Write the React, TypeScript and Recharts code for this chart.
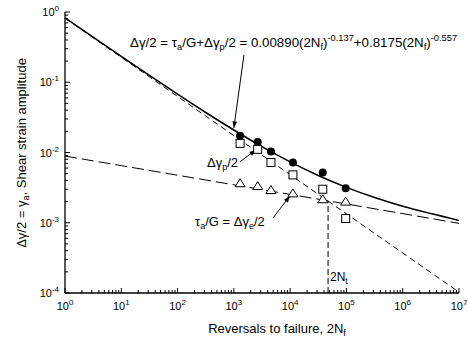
import { ComposedChart, Line, Scatter, XAxis, YAxis, ReferenceLine } from "recharts";

// Shear strain-life curve (log-log), fitted Coffin-Manson-type lines + test points.

const FONT = '"Liberation Sans", Arial, Helvetica, sans-serif';

const X_DECADES = [1, 10, 100, 1e3, 1e4, 1e5, 1e6, 1e7];
const Y_DECADES = [1e-4, 1e-3, 1e-2, 1e-1, 1];

// test results, 2Nf vs amplitude
const testReversals = [1290, 2650, 4560, 11200, 38000, 97000];
const totalAmp = [0.0173, 0.0141, 0.0103, 0.0072, 0.0052, 0.0031];
const plasticAmp = [0.0135, 0.0111, 0.0072, 0.0048, 0.003, 0.00115];
const elasticAmp = [0.00365, 0.00333, 0.00292, 0.00262, 0.00216, 0.002];

// fitted curves
const totalFitX = [1, 3.16, 10, 31.6, 100, 316, 1e3, 3160, 1e4, 31600, 1e5, 316000, 1e6, 3.16e6, 1e7];
const totalFitY = [0.826, 0.438, 0.233, 0.125, 0.0676, 0.0371, 0.0209, 0.0121, 0.00736, 0.00471, 0.00319, 0.00229, 0.00172, 0.00135, 0.00108];
const lineFitX = [1, 10, 100, 1e3, 1e4, 1e5, 1e6, 1e7];
const plasticFitY = [0.8175, 0.2266, 0.0628, 0.0174, 0.00483, 0.00134, 0.000371, 0.000103];
const elasticFitY = [0.0089, 0.0065, 0.00475, 0.00347, 0.00253, 0.00185, 0.00135, 0.00098];

// transition life 2Nt
const transitionX = 47200;
const transitionY = 0.00204;

const zip = (xs: number[], ys: number[]) => xs.map((x, i) => ({ x, y: ys[i] }));

const totalPts = zip(testReversals, totalAmp);
const plasticPts = zip(testReversals, plasticAmp);
const elasticPts = zip(testReversals, elasticAmp);
const totalFit = zip(totalFitX, totalFitY);
const plasticFit = zip(lineFitX, plasticFitY);
const elasticFit = zip(lineFitX, elasticFitY);
const transitionLine = [
  { x: transitionX, y: 1e-4 },
  { x: transitionX, y: transitionY },
];

const withMinor = (decades: number[]) => {
  const out: number[] = [];
  decades.forEach((d, i) => {
    out.push(d);
    if (i < decades.length - 1) for (let k = 2; k <= 9; k++) out.push(d * k);
  });
  return out;
};
const xTicks = withMinor(X_DECADES);
const yTicks = withMinor(Y_DECADES);

const isMajor = (v: number) => {
  const l = Math.log10(v);
  return Math.abs(l - Math.round(l)) < 1e-6;
};

const Pow = ({ x, y, exp, anchor }: any) => (
  <text x={x} y={y} textAnchor={anchor} fontSize={11} fontFamily={FONT} fill="#000">
    <tspan>10</tspan>
    <tspan dy={-5} fontSize={8}>{exp}</tspan>
  </text>
);

const makeTick = (side: "bottom" | "top" | "left" | "right") => (props: any) => {
  const { x, y, payload } = props;
  const v = payload.value;
  const major = isMajor(v);
  const len = major ? 5 : 3;
  const exp = Math.round(Math.log10(v));
  let line;
  if (side === "bottom") line = <line x1={x} x2={x} y1={y} y2={y - len} stroke="#000" />;
  else if (side === "top") line = <line x1={x} x2={x} y1={y} y2={y + len} stroke="#000" />;
  else if (side === "left") line = <line x1={x} x2={x + len} y1={y} y2={y} stroke="#000" />;
  else line = <line x1={x} x2={x - len} y1={y} y2={y} stroke="#000" />;
  return (
    <g>
      {line}
      {major && side === "bottom" && <Pow x={x} y={y + 17} exp={exp} anchor="middle" />}
      {major && side === "left" && <Pow x={x - 6} y={y + 4} exp={exp} anchor="end" />}
    </g>
  );
};

const Circle = ({ cx, cy }: any) => <circle cx={cx} cy={cy} r={4} fill="#000" />;
const Square = ({ cx, cy }: any) => (
  <rect x={cx - 4} y={cy - 4} width={8} height={8} fill="#fff" stroke="#000" strokeWidth={1} />
);
const Triangle = ({ cx, cy }: any) => (
  <path d={`M${cx},${cy - 4.5}L${cx + 5},${cy + 3.5}L${cx - 5},${cy + 3.5}Z`} fill="#fff" stroke="#000" strokeWidth={1} />
);

const Arrow = ({ x1, y1, x2, y2 }: any) => {
  const a = Math.atan2(y2 - y1, x2 - x1);
  const L = 7;
  const w = 0.35;
  const p1 = [x2 - L * Math.cos(a - w), y2 - L * Math.sin(a - w)];
  const p2 = [x2 - L * Math.cos(a + w), y2 - L * Math.sin(a + w)];
  return (
    <g>
      <line x1={x1} y1={y1} x2={x2} y2={y2} stroke="#000" strokeWidth={1} />
      <path d={`M${x2},${y2}L${p1[0]},${p1[1]}L${p2[0]},${p2[1]}Z`} fill="#000" />
    </g>
  );
};

const arrows = [
  [{ x: 1510, y: 0.244 }, { x: 1000, y: 0.0223 }],
  [{ x: 1283, y: 0.0074 }, { x: 2470, y: 0.01086 }],
  [{ x: 4950, y: 0.00117 }, { x: 9920, y: 0.0024 }],
];

// text pieces: 0 = normal, 1 = subscript, -1 = superscript
type Seg = [string, number];
const Rich = ({ segs, fontSize, ...rest }: { segs: Seg[]; fontSize: number; [k: string]: any }) => {
  let cur = 0;
  return (
    <text fontSize={fontSize} {...rest}>
      {segs.map(([s, k], i) => {
        const target = k === 1 ? 3 : k === -1 ? -6 : 0;
        const dy = target - cur;
        cur = target;
        return (
          <tspan key={i} dy={dy} fontSize={k ? fontSize * 0.7 : fontSize}>
            {s}
          </tspan>
        );
      })}
    </text>
  );
};

const eqText: Seg[] = [
  ["Δγ/2 = τ", 0], ["a", 1], ["/G+Δγ", 0], ["p", 1], ["/2 = 0.00890(2N", 0], ["f", 1], [")", 0],
  ["-0.137", -1], ["+0.8175(2N", 0], ["f", 1], [")", 0], ["-0.557", -1],
];
const plasticLabel: Seg[] = [["Δγ", 0], ["p", 1], ["/2", 0]];
const elasticLabel: Seg[] = [["τ", 0], ["a", 1], ["/G = Δγ", 0], ["e", 1], ["/2", 0]];
const transitionLabel: Seg[] = [["2N", 0], ["t", 1]];
const xLabel: Seg[] = [["Reversals to failure, 2N", 0], ["f", 1]];
const yLabel: Seg[] = [["Δγ/2 = γ", 0], ["a", 1], [", Shear strain amplitude", 0]];

export default function App() {
  const axisProps = {
    type: "number" as const,
    scale: "log" as const,
    allowDataOverflow: true,
    interval: 0 as const,
    tickSize: 0,
    tickMargin: 0,
    tickLine: false,
    axisLine: { stroke: "#000", strokeWidth: 1.3 },
  };
  return (
    <div style={{ position: "absolute", left: 0, top: 0, width: 468, height: 338, background: "#fff" }}>
      <ComposedChart width={468} height={338} margin={{ top: 12, right: 9, bottom: 15, left: 10 }}>
        <XAxis xAxisId="b" dataKey="x" orientation="bottom" height={30} domain={[1, 1e7]} ticks={xTicks} tick={makeTick("bottom")} {...axisProps} />
        <XAxis xAxisId="t" dataKey="x" orientation="top" height={0} domain={[1, 1e7]} ticks={xTicks} tick={makeTick("top")} {...axisProps} />
        <YAxis yAxisId="l" dataKey="y" orientation="left" width={55} domain={[1e-4, 1]} ticks={yTicks} tick={makeTick("left")} {...axisProps} />
        <YAxis yAxisId="r" dataKey="y" orientation="right" width={0} domain={[1e-4, 1]} ticks={yTicks} tick={makeTick("right")} {...axisProps} />

        <Line xAxisId="b" yAxisId="l" data={elasticFit} dataKey="y" stroke="#000" strokeWidth={1} strokeDasharray="12 5" dot={false} isAnimationActive={false} />
        <Line xAxisId="b" yAxisId="l" data={plasticFit} dataKey="y" stroke="#000" strokeWidth={1} strokeDasharray="6 4" dot={false} isAnimationActive={false} />
        <Line xAxisId="b" yAxisId="l" data={totalFit} dataKey="y" type="monotone" stroke="#000" strokeWidth={1.5} dot={false} isAnimationActive={false} />
        <Line xAxisId="b" yAxisId="l" data={transitionLine} dataKey="y" stroke="#000" strokeWidth={1} strokeDasharray="6 3" dot={false} isAnimationActive={false} />

        <Scatter xAxisId="b" yAxisId="l" data={elasticPts} shape={Triangle} isAnimationActive={false} />
        <Scatter xAxisId="b" yAxisId="l" data={plasticPts} shape={Square} isAnimationActive={false} />
        <Scatter xAxisId="b" yAxisId="l" data={totalPts} shape={Circle} isAnimationActive={false} />

        {arrows.map((seg, i) => (
          <ReferenceLine key={i} xAxisId="b" yAxisId="l" segment={seg} shape={Arrow} ifOverflow="visible" />
        ))}
      </ComposedChart>
      <svg width={468} height={338} style={{ position: "absolute", left: 0, top: 0, pointerEvents: "none" }} fontFamily={FONT} fill="#000">
        <Rich segs={eqText} x={130} y={47} fontSize={13.3} />
        <Rich segs={plasticLabel} x={207} y={167} fontSize={13} />
        <Rich segs={elasticLabel} x={195} y={226} fontSize={13} />
        <Rich segs={transitionLabel} x={330} y={281} fontSize={12} />
        <Rich segs={xLabel} x={277} y={333} fontSize={13} textAnchor="middle" />
        <Rich segs={yLabel} transform="translate(26,153) rotate(-90)" fontSize={13} textAnchor="middle" />
      </svg>
    </div>
  );
}
